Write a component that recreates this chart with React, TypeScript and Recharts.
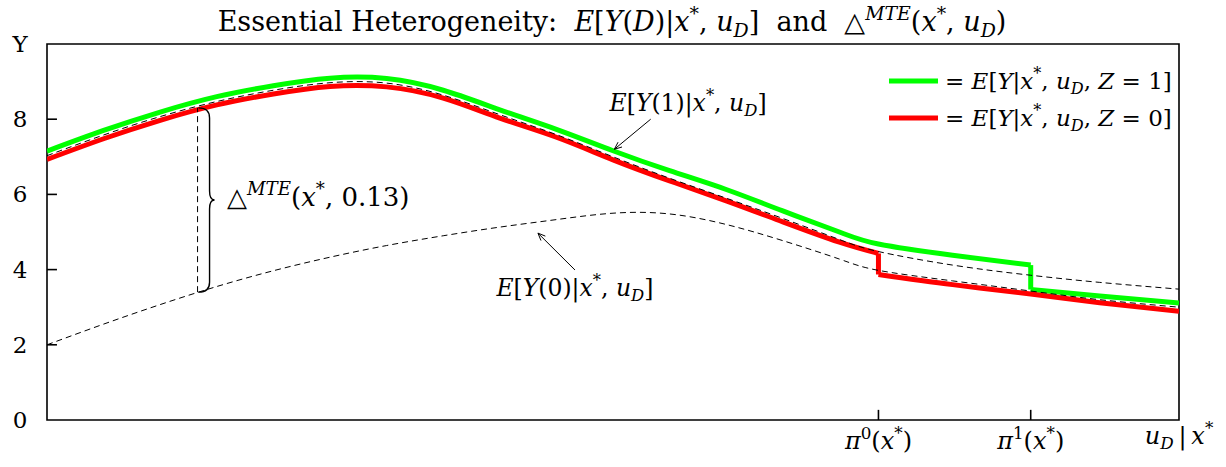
import React from "react"
import { LineChart, Line, XAxis, YAxis, ReferenceLine, ReferenceDot, ReferenceArea } from "recharts"

// propensity cut-offs on the u_D axis
const PI0 = 0.7345
const PI1 = 0.869
const U_MARK = 0.133

const uGrid = [0, 0.05, 0.1, 0.15, 0.2, 0.25, 0.3, 0.35, 0.4, 0.45, 0.5, 0.55, 0.6, 0.65, 0.7, PI0, 0.8, PI1, 0.93, 1]
const y1Values = [7.03, 7.58, 8.07, 8.47, 8.77, 8.97, 8.96, 8.64, 8.12, 7.59, 7.0, 6.43, 5.9, 5.36, 4.8, 4.48, 4.12, 3.85, 3.66, 3.48]
const y0Values = [2.0, 2.55, 3.07, 3.55, 3.97, 4.33, 4.64, 4.9, 5.13, 5.33, 5.5, 5.48, 5.2, 4.77, 4.28, 3.98, 3.7, 3.43, 3.2, 3.0]

const greenBeforeU = [0, 0.05, 0.1, 0.15, 0.2, 0.25, 0.3, 0.35, 0.4, 0.45, 0.5, 0.55, 0.6, 0.65, 0.7, PI0, 0.8, PI1]
const greenBeforeV = [7.15, 7.7, 8.19, 8.6, 8.89, 9.09, 9.08, 8.77, 8.25, 7.73, 7.16, 6.63, 6.13, 5.56, 5.0, 4.68, 4.38, 4.12]
const greenAfterU = [PI1, 0.93, 1]
const greenAfterV = [3.47, 3.3, 3.11]

const redBeforeU = [0, 0.05, 0.1, 0.15, 0.2, 0.25, 0.3, 0.35, 0.4, 0.45, 0.5, 0.55, 0.6, 0.65, 0.7, PI0]
const redBeforeV = [6.93, 7.48, 7.97, 8.38, 8.67, 8.87, 8.86, 8.56, 8.03, 7.52, 6.92, 6.36, 5.83, 5.27, 4.73, 4.43]
const redAfterU = [PI0, 0.8, PI1, 0.93, 1]
const redAfterV = [3.87, 3.6, 3.35, 3.12, 2.89]

const yTicks = [0, 2, 4, 6, 8, 10]
const xTicks = [PI0, PI1, 1]

const SERIF = "'DejaVu Serif', 'Liberation Serif', serif"
const GREEN = "#00ff00"
const RED = "#ff0000"

const zip = (us: number[], vs: number[]) => us.map((u, i) => ({ u, v: vs[i] }))

type Part = { t: string; i?: boolean; sup?: boolean; sub?: boolean }
const R = (t: string): Part => ({ t })
const I = (t: string): Part => ({ t, i: true })
const SUP = (t: string, i = false): Part => ({ t, sup: true, i })
const SUB = (t: string, i = true): Part => ({ t, sub: true, i })

function MathText({ x, y, parts, size, anchor = "start" }: { x: number; y: number; parts: Part[]; size: number; anchor?: string }) {
  let shift = 0
  const spans = parts.map((p, k) => {
    const off = p.sup ? -0.42 * size : p.sub ? 0.22 * size : 0
    const dy = off - shift
    shift = off
    return (
      <tspan key={k} dy={dy} fontStyle={p.i ? "italic" : "normal"} fontSize={p.sup || p.sub ? size * 0.7 : size}>
        {p.t}
      </tspan>
    )
  })
  return (
    <text x={x} y={y} textAnchor={anchor as any} fontFamily={SERIF} fontSize={size} fill="#000">
      {spans}
    </text>
  )
}

const titleParts = [
  R("Essential Heterogeneity:\u00a0\u00a0"), I("E"), R("["), I("Y"), R("("), I("D"), R(")|"), I("x"), SUP("*"), R(", "), I("u"), SUB("D"),
  R("]\u00a0\u00a0and\u00a0\u00a0△"), SUP("MTE", true), R("("), I("x"), SUP("*"), R(", "), I("u"), SUB("D"), R(")"),
]
const legendParts = (z: string) => [R("= "), I("E"), R("["), I("Y"), R("|"), I("x"), SUP("*"), R(", "), I("u"), SUB("D"), R(", "), I("Z"), R(" = " + z + "]")]
const y1Label = [I("E"), R("["), I("Y"), R("(1)|"), I("x"), SUP("*"), R(", "), I("u"), SUB("D"), R("]")]
const y0Label = [I("E"), R("["), I("Y"), R("(0)|"), I("x"), SUP("*"), R(", "), I("u"), SUB("D"), R("]")]
const mteLabel = [R("△"), SUP("MTE", true), R("("), I("x"), SUP("*"), R(", 0.13)")]

function XTick({ x, y, payload }: any) {
  const v = payload.value
  const parts = v === 1
    ? [I("u"), SUB("D"), R("\u2009|\u2009"), I("x"), SUP("*")]
    : [I("π"), SUP(v === PI0 ? "0" : "1"), R("("), I("x"), SUP("*"), R(")")]
  return <MathText x={x} y={y + (v === 1 ? 16 : 21)} parts={parts} size={24} anchor="middle" />
}

function YTick({ y, payload }: any) {
  return (
    <text x={20} y={y + 8} textAnchor="middle" fontFamily={SERIF} fontSize={23} fill="#000">
      {payload.value === 10 ? "Y" : payload.value}
    </text>
  )
}

function Arrow({ x1, y1, x2, y2 }: any) {
  const a = Math.atan2(y2 - y1, x2 - x1)
  const L = 8
  const p1 = [x2 - L * Math.cos(a - 0.4), y2 - L * Math.sin(a - 0.4)]
  const p2 = [x2 - L * Math.cos(a + 0.4), y2 - L * Math.sin(a + 0.4)]
  return (
    <g stroke="#000" strokeWidth={1} fill="none">
      <line x1={x1} y1={y1} x2={x2} y2={y2} />
      <path d={`M${p1[0]},${p1[1]} L${x2},${y2} L${p2[0]},${p2[1]}`} />
    </g>
  )
}

function Brace({ x1, y1, x2, y2 }: any) {
  const top = Math.min(y1, y2)
  const bot = Math.max(y1, y2)
  const mid = (top + bot) / 2
  const xl = x1 + 1
  const xs = x1 + 12
  const xt = x1 + 17
  const d = `M${xl},${top} Q${xs},${top} ${xs},${top + 10} L${xs},${mid - 9} Q${xs},${mid} ${xt},${mid} Q${xs},${mid} ${xs},${mid + 9} L${xs},${bot - 10} Q${xs},${bot} ${xl},${bot}`
  return <path d={d} stroke="#000" strokeWidth={1.4} fill="none" />
}

function Label({ cx, cy, parts, anchor, size }: any) {
  return <MathText x={cx} y={cy} parts={parts} size={size} anchor={anchor} />
}

export default function App() {
  const y1Data = zip(uGrid, y1Values)
  const y0Data = zip(uGrid, y0Values)
  const markTop = 8.3
  const markBot = 3.4
  const curve = "natural"
  return (
    <div style={{ position: "absolute", left: 0, top: 0, width: 1226, height: 467, background: "#fff" }}>
      <LineChart width={1226} height={467} margin={{ top: 44, right: 47, left: 0, bottom: 0 }}>
        <XAxis dataKey="u" type="number" domain={[0, 1]} ticks={xTicks} tick={<XTick />} tickLine={false} axisLine={false} height={47} allowDataOverflow />
        <YAxis type="number" domain={[0, 10]} ticks={yTicks} tick={<YTick />} tickLine={false} axisLine={false} width={47} allowDataOverflow />
        <ReferenceArea x1={0} x2={1} y1={0} y2={10} fill="none" stroke="#000" strokeWidth={1.6} />
        {[2, 4, 6, 8].map((t) => (
          <ReferenceLine key={"yt" + t} segment={[{ x: 0, y: t }, { x: 0.0088, y: t }]} stroke="#000" strokeWidth={1.6} />
        ))}
        {[PI0, PI1].map((t) => (
          <ReferenceLine key={"xt" + t} segment={[{ x: t, y: 0 }, { x: t, y: 0.27 }]} stroke="#000" strokeWidth={1.6} />
        ))}

        <Line data={zip(greenBeforeU, greenBeforeV)} dataKey="v" type={curve} stroke={GREEN} strokeWidth={5} dot={false} isAnimationActive={false} />
        <Line data={[{ u: PI1, v: greenBeforeV[greenBeforeV.length - 1] }, { u: PI1, v: greenAfterV[0] }]} dataKey="v" type="linear" stroke={GREEN} strokeWidth={5} dot={false} isAnimationActive={false} />
        <Line data={zip(greenAfterU, greenAfterV)} dataKey="v" type={curve} stroke={GREEN} strokeWidth={5} dot={false} isAnimationActive={false} />

        <Line data={zip(redBeforeU, redBeforeV)} dataKey="v" type={curve} stroke={RED} strokeWidth={5} dot={false} isAnimationActive={false} />
        <Line data={[{ u: PI0, v: redBeforeV[redBeforeV.length - 1] }, { u: PI0, v: redAfterV[0] }]} dataKey="v" type="linear" stroke={RED} strokeWidth={5} dot={false} isAnimationActive={false} />
        <Line data={zip(redAfterU, redAfterV)} dataKey="v" type={curve} stroke={RED} strokeWidth={5} dot={false} isAnimationActive={false} />

        <Line data={y1Data} dataKey="v" type={curve} stroke="#000" strokeWidth={1} strokeDasharray="6 4" dot={false} isAnimationActive={false} />
        <Line data={y0Data} dataKey="v" type={curve} stroke="#000" strokeWidth={1} strokeDasharray="6 4" dot={false} isAnimationActive={false} />

        <ReferenceLine segment={[{ x: U_MARK, y: markBot }, { x: U_MARK, y: markTop }]} stroke="#000" strokeWidth={1} strokeDasharray="6 4" />
        <ReferenceLine segment={[{ x: U_MARK, y: markBot }, { x: U_MARK, y: markTop }]} shape={(p: any) => <Brace {...p} />} />
        <ReferenceLine segment={[{ x: 0.5333, y: 8.0 }, { x: 0.5012, y: 7.2 }]} shape={(p: any) => <Arrow {...p} />} />
        <ReferenceLine segment={[{ x: 0.4664, y: 3.99 }, { x: 0.4337, y: 4.97 }]} shape={(p: any) => <Arrow {...p} />} />

        <ReferenceDot x={0.5663} y={8.22} r={0} shape={(p: any) => <Label {...p} parts={y1Label} anchor="middle" size={23.5} />} />
        <ReferenceDot x={0.4664} y={3.3} r={0} shape={(p: any) => <Label {...p} parts={y0Label} anchor="middle" size={23.5} />} />
        <ReferenceDot x={0.159} y={5.69} r={0} shape={(p: any) => <Label {...p} parts={mteLabel} anchor="start" size={26} />} />
      </LineChart>

      <svg width={1226} height={467} style={{ position: "absolute", left: 0, top: 0, pointerEvents: "none" }}>
        <MathText x={612} y={31} parts={titleParts} size={27} anchor="middle" />
        <line x1={889} x2={938} y1={81} y2={81} stroke={GREEN} strokeWidth={5} />
        <line x1={889} x2={938} y1={118} y2={118} stroke={RED} strokeWidth={5} />
        <MathText x={945} y={89} parts={legendParts("1")} size={23} />
        <MathText x={945} y={126} parts={legendParts("0")} size={23} />
      </svg>
    </div>
  )
}
